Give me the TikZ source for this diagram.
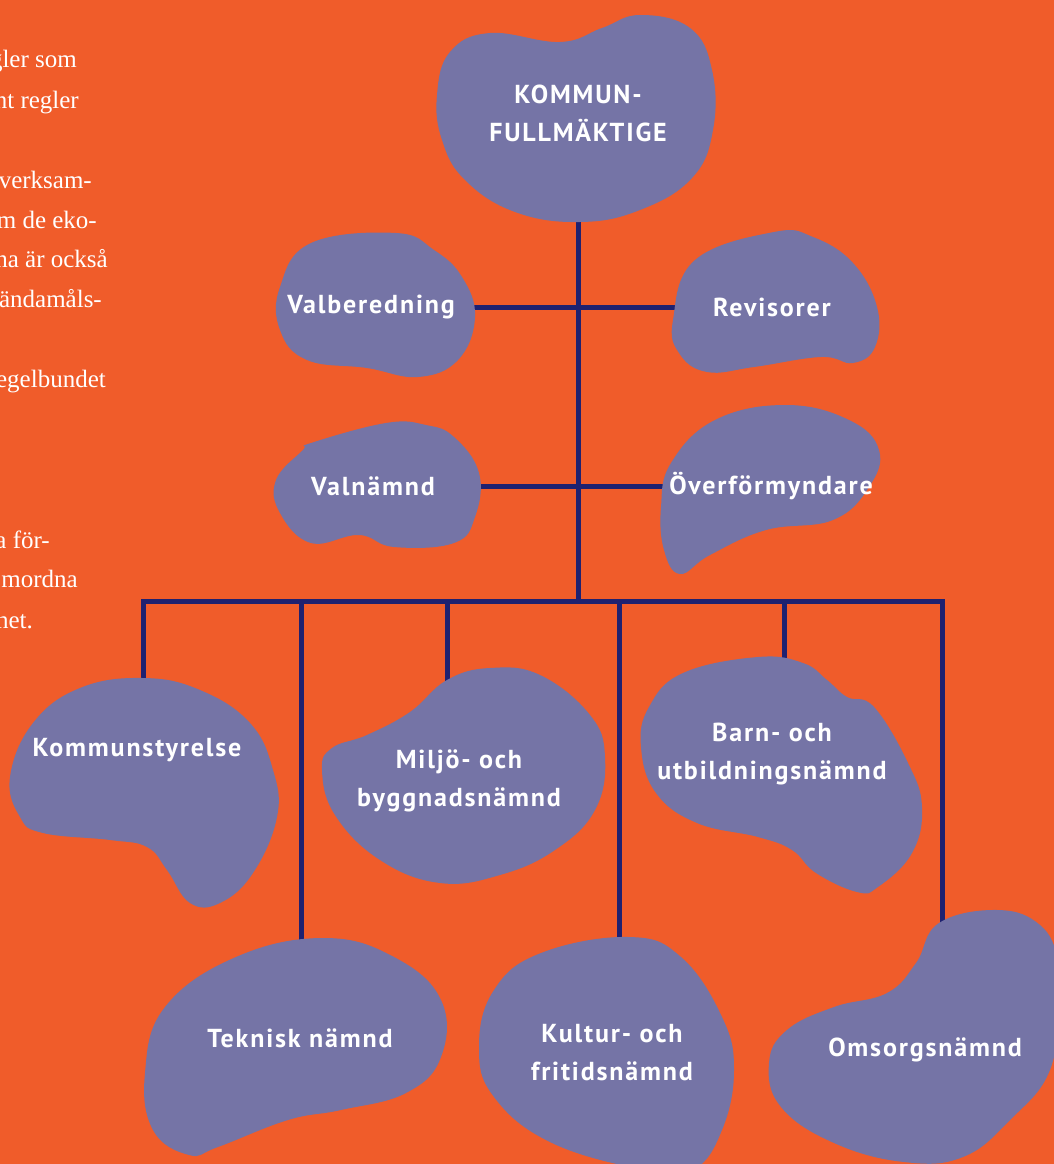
\documentclass[tikz,border=0pt]{standalone}
\usepackage{fontspec}
\usepackage{xcolor}
\usepackage{tikz}
\newfontfamily\blobfont[LetterSpace=7]{PT Sans}
\newfontfamily\parafont{Liberation Serif}
\definecolor{flame}{HTML}{F05C2A}
\definecolor{slate}{HTML}{7574A6}
\definecolor{navy}{HTML}{1F2170}
\pgfdeclarelayer{bg}
\pgfdeclarelayer{wires}
\pgfdeclarelayer{blobs}
\pgfsetlayers{bg,wires,blobs,main}

\begin{document}
\begin{tikzpicture}[x=1pt,y=-1pt,
  blob/.style={fill=slate},
  lbl/.style={text=white,align=center,inner sep=0,font=\blobfont\bfseries\fontsize{26}{38}\selectfont},
  para/.style={text=white,inner sep=0,anchor=base east,font=\parafont\fontsize{25}{40}\selectfont},
  conn/.style={draw=navy,line width=5pt}]
  \useasboundingbox (0,0) rectangle (1054,1164);
  \begin{pgfonlayer}{bg}
    \fill[flame] (0,0) rectangle (1054,1164);
  \end{pgfonlayer}

  \foreach \txt/\xx/\yy [count=\i] in {gler som/77/67, nt regler/79/108, verksam-/92/188,
      m de eko-/97/228, na är också/108/267, ändamåls-/102/307, egelbundet/106/387,
      a för-/50/548, mordna/78/587, het./33/628}
    \node[para] (p\i) at (\xx,\yy) {\txt};

  \node[lbl] (kf) at (578,113) {KOMMUN-\\FULLMÄKTIGE};
  \node[lbl] (valb) at (371,307) {Valberedning};
  \node[lbl] (revi) at (772,307) {Revisorer};
  \node[lbl] (valn) at (373,486) {Valnämnd};
  \node[lbl] (overf) at (771,486) {Överförmyndare};
  \node[lbl] (ks) at (137,750) {Kommunstyrelse};
  \node[lbl] (miljo) at (459,781) {Miljö- och\\byggnadsnämnd};
  \node[lbl] (barn) at (772,754) {Barn- och\\utbildningsnämnd};
  \node[lbl] (tek) at (300,1038) {Teknisk nämnd};
  \node[lbl] (kult) at (612,1053) {Kultur- och\\fritidsnämnd};
  \node[lbl] (oms) at (925,1050) {Omsorgsnämnd};

  \coordinate (b1) at (143,601);
  \coordinate (b2) at (301,601);
  \coordinate (b3) at (447,601);
  \coordinate (b4) at (619,601);
  \coordinate (b5) at (784,601);
  \coordinate (b6) at (942,601);

  \begin{pgfonlayer}{wires}
    \draw[conn] (kf) -- (kf |- b1);
    \draw[conn] (valb) -- (revi);
    \draw[conn] (valn) -- (overf);
    \draw[conn] (b1 |- ks) -- (b1) -- (b6) -- (b6 |- oms);
    \draw[conn] (b2) -- (b2 |- tek);
    \draw[conn] (b3) -- (b3 |- miljo);
    \draw[conn] (b4) -- (b4 |- kult);
    \draw[conn] (b5) -- (b5 |- barn);
  \end{pgfonlayer}

  \begin{pgfonlayer}{blobs}
    \fill[blob] plot[smooth cycle,tension=0.7] coordinates {(437,95) (450,52) (490,33) (560,42)
      (602,28) (640,15) (690,28) (712,70) (713,130) (692,178) (640,210) (580,222) (515,212)
      (465,180) (442,140)};
    \fill[blob] plot[smooth cycle,tension=0.7] coordinates {(396,233) (311,243) (280,287)
      (280,330) (307,360) (367,368) (418,377) (458,360) (475,317) (462,277) (434,250)};
    \fill[blob] plot[smooth cycle,tension=0.7] coordinates {(774,232) (813,237) (853,263)
      (877,307) (875,347) (853,363) (821,357) (754,367) (707,372) (679,353) (673,320) (695,260)};
    \fill[blob] plot[smooth cycle,tension=0.7] coordinates {(386,423) (426,425) (454,437)
      (479,473) (475,517) (454,543) (394,547) (359,535) (311,543) (280,513) (276,480)
      (303,450) (311,443)};
    \fill[blob] plot[smooth cycle,tension=0.7] coordinates {(786,405) (849,420) (879,450)
      (869,487) (833,520) (766,530) (710,555) (680,574) (664,550) (661,507) (671,463) (715,420)};
    \fill[blob] plot[smooth cycle,tension=0.7] coordinates {(143,678) (200,690) (250,723)
      (273,770) (277,817) (253,873) (220,903) (190,903) (167,870) (147,847) (110,840)
      (43,833) (20,817) (10,777) (33,723) (80,688)};
    \fill[blob] plot[smooth cycle,tension=0.7] coordinates {(447,680) (490,668) (540,675)
      (590,715) (605,757) (595,810) (555,850) (500,875) (440,883) (380,860) (335,815)
      (322,770) (332,748) (367,735) (410,712)};
    \fill[blob] plot[smooth cycle,tension=0.7] coordinates {(758,657) (803,663) (827,680)
      (847,697) (874,707) (908,763) (922,807) (912,853) (878,887) (857,892) (816,873)
      (792,850) (758,837) (697,823) (656,793) (641,747) (649,707) (683,673)};
    \fill[blob] plot[smooth cycle,tension=0.7] coordinates {(324,938) (394,957) (441,1000)
      (441,1057) (406,1093) (341,1110) (288,1120) (218,1147) (189,1155) (153,1130)
      (145,1073) (165,1007) (236,957)};
    \fill[blob] plot[smooth cycle,tension=0.7] coordinates {(629,937) (681,957) (722,1017)
      (734,1070) (722,1130) (693,1170) (646,1170) (552,1143) (494,1097) (479,1047)
      (494,990) (541,953)};
    \fill[blob] plot[smooth cycle,tension=0.7] coordinates {(998,910) (1040,925) (1058,960)
      (1058,1000) (1050,1070) (1010,1120) (963,1157) (904,1162) (834,1143) (781,1107)
      (769,1063) (787,1030) (834,1007) (887,993) (916,963) (939,923)};
  \end{pgfonlayer}
\end{tikzpicture}
\end{document}
